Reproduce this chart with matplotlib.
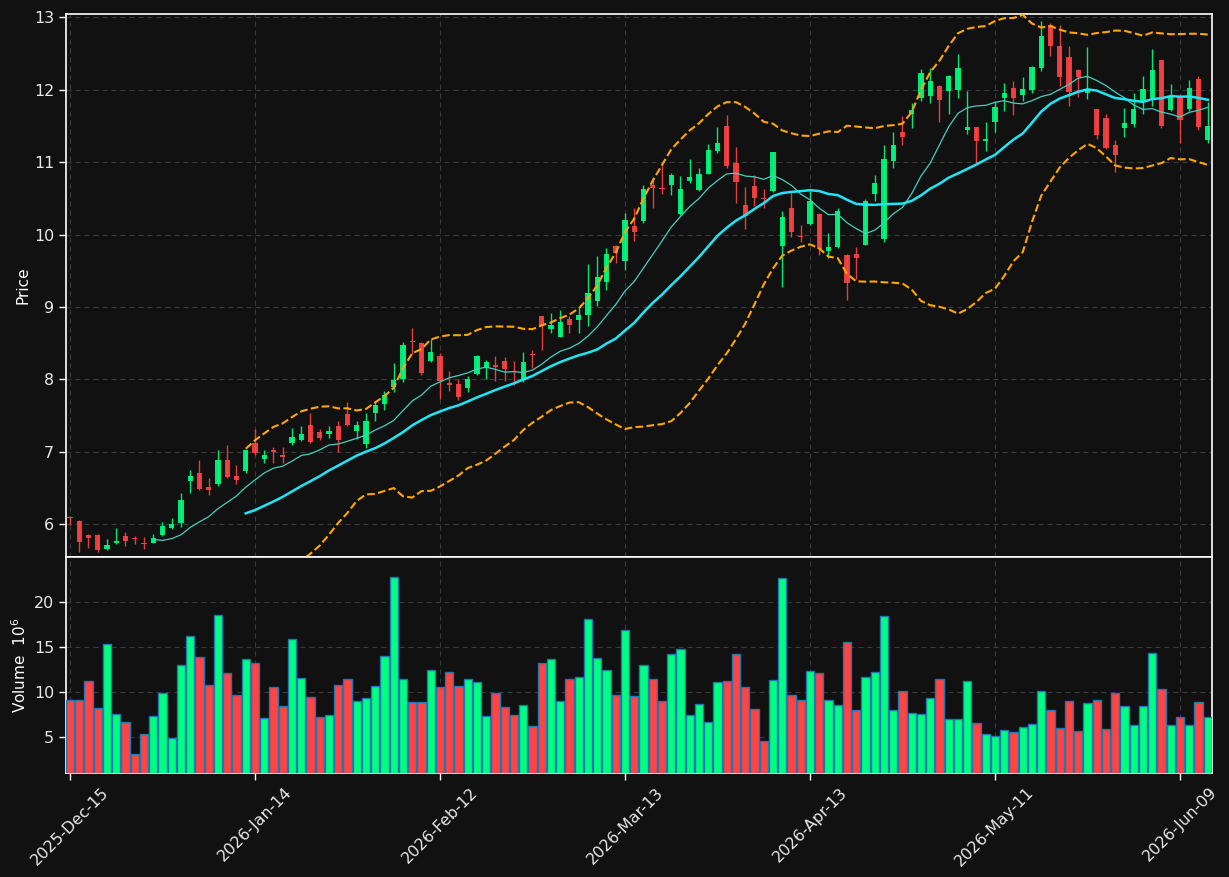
import numpy as np
import pandas as pd
import matplotlib
matplotlib.use("Agg")
import matplotlib.pyplot as plt

# ---- data (prices) ----
opens = [6.10, 6.05, 5.85, 5.85, 5.65, 5.74, 5.83, 5.80, 5.745, 5.745,
         5.85, 5.95, 6.02, 6.59, 6.70, 6.51, 6.55, 6.89, 6.67, 6.73,
         7.125, 6.895, 7.02, 6.955, 7.125, 7.16, 7.365, 7.27, 7.25, 7.35,
         7.52, 7.28, 7.10, 7.53, 7.655, 7.90, 8.00, 8.525, 8.50, 8.25,
         8.32, 7.95, 7.94, 7.885, 8.07, 8.15, 8.20, 8.25, 8.175, 7.99,
         8.35, 8.875, 8.70, 8.59, 8.83, 8.82, 8.89, 9.08, 9.35, 9.84,
         9.64, 10.12, 10.18, 10.69, 10.635, 10.69, 10.28, 10.74, 10.62, 10.84,
         11.15, 11.50, 10.985, 10.41, 10.67, 10.505, 10.595, 9.84, 10.37, 9.975,
         10.14, 10.29, 9.775, 9.83, 9.715, 9.725, 9.855, 10.555, 9.945, 11.02,
         11.41, 11.67, 11.885, 11.91, 12.045, 11.98, 11.99, 11.45, 11.48, 11.29,
         11.56, 11.89, 12.025, 11.93, 12.00, 12.30, 12.895, 12.605, 12.455, 12.275,
         11.96, 11.735, 11.615, 11.24, 11.465, 11.53, 11.85, 11.89, 12.41, 11.72,
         11.905, 11.735, 12.15, 11.31]
highs = [6.11, 6.06, 5.87, 5.86, 5.79, 5.94, 5.89, 5.83, 5.82, 5.87,
         6.03, 6.09, 6.43, 6.75, 6.88, 6.64, 7.02, 7.09, 6.81, 7.03,
         7.32, 7.03, 7.07, 7.07, 7.33, 7.35, 7.54, 7.31, 7.36, 7.43,
         7.68, 7.42, 7.54, 7.70, 7.84, 8.22, 8.51, 8.71, 8.51, 8.56,
         8.36, 8.115, 8.01, 8.05, 8.34, 8.27, 8.32, 8.31, 8.25, 8.38,
         8.41, 8.88, 8.91, 8.955, 8.87, 8.98, 9.59, 9.70, 9.82, 9.86,
         10.295, 10.36, 10.69, 10.78, 10.99, 10.85, 10.81, 11.05, 10.92, 11.25,
         11.48, 11.65, 11.21, 10.655, 10.825, 10.63, 11.145, 10.32, 10.585, 10.13,
         10.60, 10.30, 10.02, 10.36, 9.725, 9.825, 10.49, 10.82, 11.24, 11.41,
         11.64, 11.82, 12.29, 12.30, 12.07, 12.20, 12.50, 11.98, 11.485, 11.56,
         11.85, 12.09, 12.12, 12.17, 12.33, 12.955, 12.92, 12.895, 12.605, 12.28,
         12.585, 11.74, 11.66, 11.31, 11.745, 11.96, 12.19, 12.56, 12.415, 12.08,
         11.93, 12.13, 12.195, 11.835]
lows = [5.99, 5.62, 5.67, 5.61, 5.64, 5.73, 5.70, 5.72, 5.65, 5.735,
        5.84, 5.93, 5.96, 6.43, 6.47, 6.40, 6.53, 6.64, 6.55, 6.71,
        6.96, 6.84, 6.84, 6.84, 7.09, 7.15, 7.12, 7.16, 7.19, 7.00,
        7.36, 7.17, 7.05, 7.42, 7.57, 7.82, 7.96, 8.35, 8.06, 8.24,
        7.73, 7.84, 7.71, 7.82, 8.06, 8.01, 7.98, 7.98, 7.92, 7.96,
        8.15, 8.40, 8.64, 8.58, 8.64, 8.64, 8.73, 9.01, 9.24, 9.60,
        9.51, 9.91, 10.16, 10.37, 10.56, 10.55, 10.27, 10.71, 10.60, 10.84,
        11.12, 10.92, 10.43, 10.07, 10.39, 10.36, 10.59, 9.27, 9.97, 9.89,
        10.13, 9.72, 9.67, 9.82, 9.09, 9.39, 9.85, 10.46, 9.90, 10.92,
        11.23, 11.47, 11.85, 11.81, 11.55, 11.67, 11.885, 11.39, 10.99, 11.15,
        11.42, 11.71, 11.645, 11.85, 11.95, 12.265, 12.46, 12.045, 11.77, 11.90,
        11.87, 11.32, 11.18, 10.86, 11.35, 11.49, 11.66, 11.77, 11.47, 11.71,
        11.27, 11.70, 11.445, 11.26]
closes = [6.09, 5.76, 5.81, 5.64, 5.71, 5.77, 5.77, 5.79, 5.72, 5.815,
          5.97, 6.00, 6.34, 6.66, 6.49, 6.47, 6.89, 6.65, 6.61, 7.02,
          6.98, 6.96, 7.00, 6.93, 7.20, 7.24, 7.13, 7.185, 7.28, 7.16,
          7.365, 7.365, 7.43, 7.64, 7.78, 7.995, 8.48, 8.515, 8.09, 8.38,
          7.98, 7.92, 7.75, 8.005, 8.32, 8.24, 8.17, 8.14, 8.165, 8.24,
          8.33, 8.73, 8.75, 8.79, 8.75, 8.89, 9.19, 9.415, 9.73, 9.75,
          10.20, 10.04, 10.63, 10.64, 10.625, 10.825, 10.63, 10.80, 10.84, 11.17,
          11.26, 10.95, 10.73, 10.25, 10.51, 10.495, 11.14, 10.245, 10.04, 9.965,
          10.465, 9.80, 9.825, 10.32, 9.335, 9.68, 10.46, 10.71, 11.04, 11.23,
          11.35, 11.715, 12.235, 12.115, 11.865, 12.185, 12.295, 11.485, 11.29, 11.315,
          11.755, 11.955, 11.89, 12.01, 12.315, 12.745, 12.61, 12.17, 11.975, 12.18,
          12.00, 11.37, 11.20, 11.10, 11.54, 11.735, 12.01, 12.275, 11.50, 11.905,
          11.585, 12.025, 11.49, 11.50]
# volume in millions
volumes = [9.11, 9.11, 11.22, 8.22, 15.33, 7.56, 6.67, 3.11, 5.33, 7.33,
           9.89, 4.89, 13.0, 16.22, 13.89, 10.78, 18.56, 12.11, 9.67, 13.67,
           13.22, 7.11, 10.56, 8.44, 15.89, 11.56, 9.44, 7.22, 7.44, 10.78,
           11.44, 9.0, 9.33, 10.67, 14.0, 22.78, 11.44, 8.89, 8.89, 12.44,
           10.56, 12.22, 10.67, 11.44, 11.11, 7.33, 9.89, 8.33, 7.44, 8.56,
           6.22, 13.22, 13.67, 9.0, 11.44, 11.67, 18.11, 13.78, 12.44, 9.67,
           16.89, 9.56, 13.0, 11.44, 9.0, 14.22, 14.78, 7.44, 8.67, 6.67,
           11.11, 11.22, 14.22, 10.56, 8.11, 4.56, 11.33, 22.67, 9.67, 9.11,
           12.33, 12.11, 9.11, 8.56, 15.56, 8.0, 11.67, 12.22, 18.44, 8.0,
           10.11, 7.67, 7.56, 9.33, 11.44, 6.96, 6.96, 11.22, 6.56, 5.33,
           5.11, 5.78, 5.56, 6.11, 6.44, 10.11, 8.0, 6.0, 9.0, 5.67,
           8.78, 9.11, 5.89, 9.89, 8.44, 6.33, 8.44, 14.33, 10.33, 6.33,
           7.22, 6.33, 8.89, 7.22]
tick_labels = ['2025-Dec-15', '2026-Jan-14', '2026-Feb-12', '2026-Mar-13',
               '2026-Apr-13', '2026-May-11', '2026-Jun-09']
tick_step = 20
mav_short, mav_long, bb_k = 10, 20, 2.0

# ---- style ----
BG = '#111111'
UP, DOWN = '#00ff80', '#ff4444'
GRID = '#3a3a3a'
W, H = 1229, 877

o = np.array(opens); h = np.array(highs); l = np.array(lows); c = np.array(closes)
v = np.array(volumes)
n = len(c)
x = np.arange(n)
up = c >= o
cols = np.where(up, UP, DOWN)

close_s = pd.Series(c)
ma_s = close_s.rolling(mav_short).mean()
ma_l = close_s.rolling(mav_long).mean()
sd = close_s.rolling(mav_long).std()
bb_up = ma_l + bb_k * sd
bb_lo = ma_l - bb_k * sd

fig = plt.figure(figsize=(W / 100, H / 100), dpi=100, facecolor=BG)
left, right = 66 / W, 1212 / W
ax = fig.add_axes([left, (H - 557) / H, right - left, (557 - 14) / H])
axv = fig.add_axes([left, (H - 773) / H, right - left, (773 - 557) / H], sharex=ax)

for a in (ax, axv):
    a.set_facecolor(BG)
    for s in a.spines.values():
        s.set_color('white')
        s.set_linewidth(1.2)
    a.tick_params(colors='white', labelcolor='#e8e8e8', labelsize=11.4,
                  length=5, width=1)
    a.grid(True, color=GRID, linestyle=(0, (4.5, 3.6)), linewidth=0.8)
    a.set_axisbelow(True)

# candles
ax.vlines(x, l, h, colors=cols, linewidth=1.0, alpha=0.9, zorder=2)
body_lo = np.minimum(o, c)
body_h = np.maximum(np.abs(c - o), 0.012)
ax.bar(x, body_h, bottom=body_lo, width=0.56, color=cols, alpha=0.9,
       linewidth=0, zorder=3)

# moving averages + bands
ax.plot(x, ma_s, color='#45cfc0', linewidth=0.9, zorder=4)
ax.plot(x, ma_l, color='#1fe6f5', linewidth=1.8, zorder=4)
ax.plot(x, bb_up, color='#ffa500', linewidth=1.5, linestyle='--', zorder=4)
ax.plot(x, bb_lo, color='#ffa500', linewidth=1.5, linestyle='--', zorder=4)

ax.set_ylim(5.546, 13.046)
ax.set_yticks(np.arange(6, 14, 1))
ax.set_ylabel('Price', color='white', fontsize=11)
ax.tick_params(axis='x', labelbottom=False, length=0)

# volume
axv.bar(x, v, width=0.9, color=cols, edgecolor='#1f77b4', linewidth=1.0, zorder=3)
axv.set_ylim(0.3 * v.min(), 1.1 * v.max())
axv.set_yticks([5, 10, 15, 20])
axv.set_ylabel('Volume  $10^{6}$', color='white', fontsize=11)

ticks = np.arange(0, n, tick_step)
axv.set_xticks(ticks)
axv.set_xticklabels(tick_labels[:len(ticks)], rotation=45, ha='center')
axv.set_xlim(-0.43, n - 1 + 0.46)

ax.yaxis.set_label_coords(-0.031, 0.5)
axv.yaxis.set_label_coords(-0.032, 0.5)

fig.savefig('out.png', dpi=100, facecolor=BG)
